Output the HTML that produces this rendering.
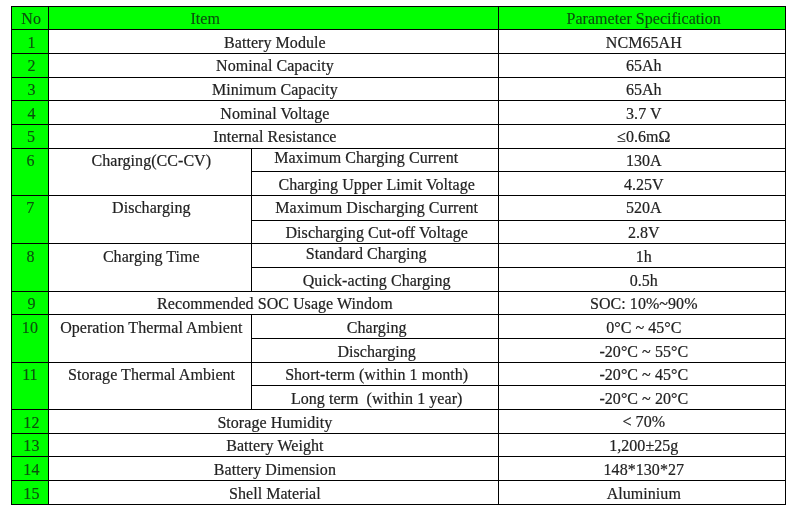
<!DOCTYPE html>
<html><head><meta charset="utf-8"><title>Battery Specification</title>
<style>
html,body{margin:0;padding:0;background:#fff;overflow:hidden;}
body{width:799px;height:509px;position:relative;overflow:hidden;font-family:"Liberation Serif","Times New Roman",serif;font-size:16px;color:#222;-webkit-text-stroke:0.2px #222;}
.g{position:absolute;background:#00ff00;}
.h,.v{position:absolute;background:#000;}
.h{height:1px;}
.v{width:1px;}
.gt{color:#0c4f0e;-webkit-text-stroke:0.15px #0c4f0e;}
.t{position:absolute;width:400px;height:20px;line-height:20px;text-align:center;white-space:nowrap;letter-spacing:0.05px;}
</style></head><body>

<div class="g" style="left:11px;top:6px;width:774px;height:23px"></div>
<div class="g" style="left:11px;top:6px;width:37px;height:498px"></div>
<div class="h" style="left:11px;top:6px;width:775px"></div>
<div class="h" style="left:11px;top:29px;width:775px"></div>
<div class="h" style="left:11px;top:53px;width:775px"></div>
<div class="h" style="left:11px;top:77px;width:775px"></div>
<div class="h" style="left:11px;top:100px;width:775px"></div>
<div class="h" style="left:11px;top:124px;width:775px"></div>
<div class="h" style="left:11px;top:148px;width:775px"></div>
<div class="h" style="left:251px;top:171px;width:535px"></div>
<div class="h" style="left:11px;top:195px;width:775px"></div>
<div class="h" style="left:251px;top:220px;width:535px"></div>
<div class="h" style="left:11px;top:243px;width:775px"></div>
<div class="h" style="left:251px;top:267px;width:535px"></div>
<div class="h" style="left:11px;top:291px;width:775px"></div>
<div class="h" style="left:11px;top:314px;width:775px"></div>
<div class="h" style="left:251px;top:338px;width:535px"></div>
<div class="h" style="left:11px;top:362px;width:775px"></div>
<div class="h" style="left:251px;top:385px;width:535px"></div>
<div class="h" style="left:11px;top:409px;width:775px"></div>
<div class="h" style="left:11px;top:433px;width:775px"></div>
<div class="h" style="left:11px;top:456px;width:775px"></div>
<div class="h" style="left:11px;top:480px;width:775px"></div>
<div class="h" style="left:11px;top:504px;width:775px"></div>
<div class="v" style="left:11px;top:6px;height:499px"></div>
<div class="v" style="left:48px;top:6px;height:499px"></div>
<div class="v" style="left:498px;top:6px;height:499px"></div>
<div class="v" style="left:785px;top:6px;height:499px"></div>
<div class="v" style="left:251px;top:148px;height:144px"></div>
<div class="v" style="left:251px;top:314px;height:96px"></div>
<div class="t gt" style="left:-168.9px;top:9px">No</div>
<div class="t gt" style="left:5.2px;top:9px">Item</div>
<div class="t gt" style="left:443.7px;top:9px">Parameter Specification</div>
<div class="t gt" style="left:-168.5px;top:33px">1</div>
<div class="t" style="left:74.9px;top:33px">Battery Module</div>
<div class="t" style="left:443.8px;top:33px">NCM65AH</div>
<div class="t gt" style="left:-168.5px;top:56px">2</div>
<div class="t" style="left:74.9px;top:56px">Nominal Capacity</div>
<div class="t" style="left:443.8px;top:56px">65Ah</div>
<div class="t gt" style="left:-168.5px;top:80px">3</div>
<div class="t" style="left:74.9px;top:80px">Minimum Capacity</div>
<div class="t" style="left:443.8px;top:80px">65Ah</div>
<div class="t gt" style="left:-168.5px;top:104px">4</div>
<div class="t" style="left:74.9px;top:104px">Nominal Voltage</div>
<div class="t" style="left:443.8px;top:104px">3.7 V</div>
<div class="t gt" style="left:-169.0px;top:127px">5</div>
<div class="t" style="left:74.9px;top:127px">Internal Resistance</div>
<div class="t" style="left:443.8px;top:127px">≤0.6mΩ</div>
<div class="t gt" style="left:-169.5px;top:151px">6</div>
<div class="t" style="left:-48.7px;top:151px">Charging(CC-CV)</div>
<div class="t" style="left:166.2px;top:148px">Maximum Charging Current</div>
<div class="t" style="left:443.8px;top:151px">130A</div>
<div class="t" style="left:176.7px;top:175px">Charging Upper Limit Voltage</div>
<div class="t" style="left:443.8px;top:175px">4.25V</div>
<div class="t gt" style="left:-169.7px;top:198px">7</div>
<div class="t" style="left:-48.7px;top:198px">Discharging</div>
<div class="t" style="left:176.7px;top:198px">Maximum Discharging Current</div>
<div class="t" style="left:443.8px;top:198px">520A</div>
<div class="t" style="left:176.7px;top:223px">Discharging Cut-off Voltage</div>
<div class="t" style="left:443.8px;top:223px">2.8V</div>
<div class="t gt" style="left:-169.5px;top:247px">8</div>
<div class="t" style="left:-48.7px;top:247px">Charging Time</div>
<div class="t" style="left:166.2px;top:244px">Standard Charging</div>
<div class="t" style="left:443.8px;top:247px">1h</div>
<div class="t" style="left:176.7px;top:271px">Quick-acting Charging</div>
<div class="t" style="left:443.8px;top:271px">0.5h</div>
<div class="t gt" style="left:-168.5px;top:294px">9</div>
<div class="t" style="left:74.9px;top:294px">Recommended SOC Usage Windom</div>
<div class="t" style="left:443.8px;top:294px">SOC: 10%~90%</div>
<div class="t gt" style="left:-170.1px;top:318px">10</div>
<div class="t" style="left:-48.7px;top:318px">Operation Thermal Ambient</div>
<div class="t" style="left:176.7px;top:318px">Charging</div>
<div class="t" style="left:443.8px;top:318px">0°C ~ 45°C</div>
<div class="t" style="left:176.7px;top:342px">Discharging</div>
<div class="t" style="left:443.8px;top:342px">-20°C ~ 55°C</div>
<div class="t gt" style="left:-170.1px;top:365px">11</div>
<div class="t" style="left:-48.4px;top:365px">Storage Thermal Ambient</div>
<div class="t" style="left:176.7px;top:365px">Short-term (within 1 month)</div>
<div class="t" style="left:443.8px;top:365px">-20°C ~ 45°C</div>
<div class="t" style="left:176.7px;top:389px">Long term&nbsp; (within 1 year)</div>
<div class="t" style="left:443.8px;top:389px">-20°C ~ 20°C</div>
<div class="t gt" style="left:-168.6px;top:413px">12</div>
<div class="t" style="left:74.9px;top:413px">Storage Humidity</div>
<div class="t" style="left:443.8px;top:412px">&lt; 70%</div>
<div class="t gt" style="left:-168.6px;top:436px">13</div>
<div class="t" style="left:74.9px;top:436px">Battery Weight</div>
<div class="t" style="left:443.8px;top:436px">1,200±25g</div>
<div class="t gt" style="left:-168.6px;top:460px">14</div>
<div class="t" style="left:74.9px;top:460px">Battery Dimension</div>
<div class="t" style="left:443.8px;top:460px">148*130*27</div>
<div class="t gt" style="left:-168.6px;top:484px">15</div>
<div class="t" style="left:74.9px;top:484px">Shell Material</div>
<div class="t" style="left:443.8px;top:484px">Aluminium</div>
</body></html>
